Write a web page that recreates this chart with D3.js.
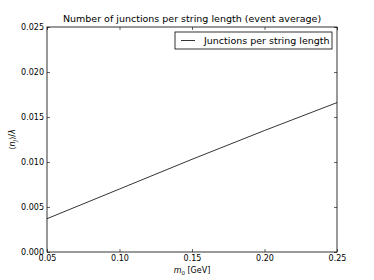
<!DOCTYPE html>
<html>
<head>
<meta charset="utf-8">
<script src="https://cdn.jsdelivr.net/npm/d3@7"></script>
<style>
  body { margin: 0; background: #fff; }
  text { font-family: "DejaVu Sans", sans-serif; fill: #000; }
</style>
</head>
<body>
<svg id="chart"></svg>
<script>
const width = 374;
const height = 280;
const margin = { top: 27, right: 37, bottom: 28, left: 47 };

// data
const massValues = [0.05, 0.10, 0.15, 0.20, 0.25];
const junctionsPerLength = [0.0037, 0.0070, 0.0103, 0.0135, 0.0166];
const xTicks = [0.05, 0.10, 0.15, 0.20, 0.25];
const yTicks = [0.000, 0.005, 0.010, 0.015, 0.020, 0.025];

const svg = d3.select("#chart")
  .attr("width", width)
  .attr("height", height);

const x = d3.scaleLinear().domain([0.05, 0.25]).range([margin.left, width - margin.right]);
const y = d3.scaleLinear().domain([0, 0.025]).range([height - margin.bottom, margin.top]);

const fmt = d3.format(".2f");
const fmtY = d3.format(".3f");

// ticks inside on all sides
svg.append("g")
  .attr("transform", `translate(0,${height - margin.bottom})`)
  .call(d3.axisBottom(x).tickValues(xTicks).tickFormat(fmt).tickSizeInner(-3).tickSizeOuter(0).tickPadding(3))
  .call(g => g.select(".domain").remove())
  .call(g => g.selectAll("text").attr("font-size", 8));
svg.append("g")
  .attr("transform", `translate(0,${margin.top})`)
  .call(d3.axisTop(x).tickValues(xTicks).tickFormat("").tickSizeInner(-3).tickSizeOuter(0))
  .call(g => g.select(".domain").remove());
svg.append("g")
  .attr("transform", `translate(${margin.left},0)`)
  .call(d3.axisLeft(y).tickValues(yTicks).tickFormat(fmtY).tickSizeInner(-3).tickSizeOuter(0).tickPadding(3))
  .call(g => g.select(".domain").remove())
  .call(g => g.selectAll("text").attr("font-size", 8));
svg.append("g")
  .attr("transform", `translate(${width - margin.right},0)`)
  .call(d3.axisRight(y).tickValues(yTicks).tickFormat("").tickSizeInner(-3).tickSizeOuter(0))
  .call(g => g.select(".domain").remove());

svg.selectAll(".tick line").attr("stroke", "#000").attr("stroke-width", 0.6);

// frame
svg.append("rect")
  .attr("x", margin.left)
  .attr("y", margin.top)
  .attr("width", width - margin.left - margin.right)
  .attr("height", height - margin.top - margin.bottom)
  .attr("fill", "none")
  .attr("stroke", "#000")
  .attr("stroke-width", 0.8);

// line
const line = d3.line().x((d, i) => x(massValues[i])).y(d => y(d));
svg.append("path")
  .datum(junctionsPerLength)
  .attr("d", line)
  .attr("fill", "none")
  .attr("stroke", "#000")
  .attr("stroke-width", 0.8);

// title
svg.append("text")
  .attr("x", (margin.left + width - margin.right) / 2)
  .attr("y", 22)
  .attr("text-anchor", "middle")
  .attr("font-size", 9.5)
  .text("Number of junctions per string length (event average)");

// x label
const xl = svg.append("text")
  .attr("x", (margin.left + width - margin.right) / 2)
  .attr("y", 273)
  .attr("text-anchor", "middle")
  .attr("font-size", 8);
xl.append("tspan").attr("font-style", "italic").text("m");
xl.append("tspan").attr("font-size", 5.5).attr("dy", 2).text("0");
xl.append("tspan").attr("dy", -2).text(" [GeV]");

// y label
const yl = svg.append("text")
  .attr("transform", `translate(15,${(margin.top + height - margin.bottom) / 2}) rotate(-90)`)
  .attr("text-anchor", "middle")
  .attr("font-size", 8);
yl.append("tspan").text("\u27E8");
yl.append("tspan").attr("font-style", "italic").text("n");
yl.append("tspan").attr("font-size", 5.5).attr("font-style", "italic").attr("dy", 2).text("J");
yl.append("tspan").attr("dy", -2).text("\u27E9/");
yl.append("tspan").attr("font-style", "italic").text("\u03BB");

// legend
const lg = svg.append("g");
lg.append("rect")
  .attr("x", 175).attr("y", 32).attr("width", 157).attr("height", 17)
  .attr("fill", "#fff").attr("stroke", "#000").attr("stroke-width", 0.8);
lg.append("line")
  .attr("x1", 181).attr("x2", 195).attr("y1", 40.5).attr("y2", 40.5)
  .attr("stroke", "#000").attr("stroke-width", 0.8);
lg.append("text")
  .attr("x", 204).attr("y", 44)
  .attr("font-size", 9.5)
  .text("Junctions per string length");
</script>
</body>
</html>
